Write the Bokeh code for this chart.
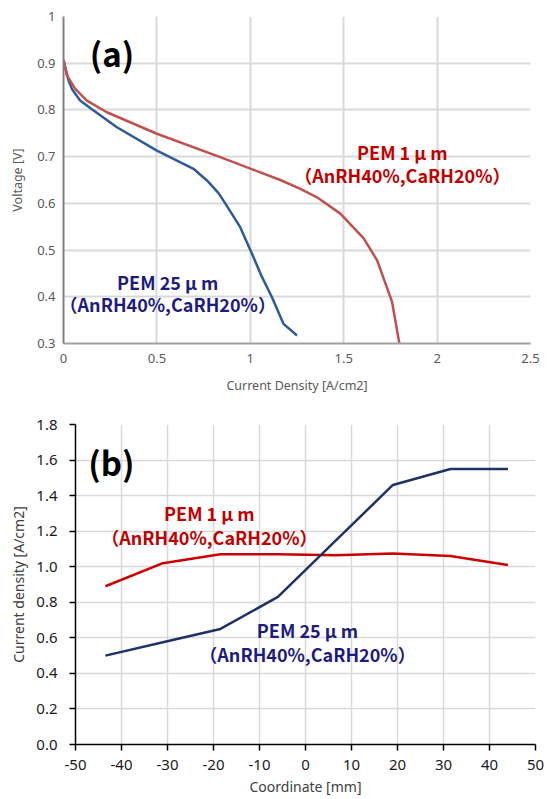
from bokeh.plotting import figure
from bokeh.models import Range1d, FixedTicker, Label, CustomJSTickFormatter, PrintfTickFormatter
from bokeh.embed import file_html
from bokeh.resources import INLINE

# ---- data (a) ----
j_pem1 = [0, 0.018, 0.063, 0.125, 0.232, 0.5, 0.839, 1.161, 1.268, 1.357, 1.482, 1.607, 1.679, 1.759, 1.798]
v_pem1 = [0.907, 0.874, 0.845, 0.820, 0.795, 0.749, 0.699, 0.650, 0.631, 0.613, 0.578, 0.525, 0.478, 0.389, 0.300]
j_pem25 = [0, 0.027, 0.045, 0.089, 0.161, 0.286, 0.5, 0.696, 0.768, 0.830, 0.866, 0.946, 1.009, 1.063, 1.116, 1.178, 1.25]
v_pem25 = [0.907, 0.863, 0.845, 0.820, 0.799, 0.763, 0.713, 0.674, 0.649, 0.622, 0.600, 0.549, 0.492, 0.442, 0.399, 0.342, 0.317]
a_xticks = [0, 0.5, 1, 1.5, 2, 2.5]
a_yticks = [0.3, 0.4, 0.5, 0.6, 0.7, 0.8, 0.9, 1.0]

# ---- data (b) ----
coord = [-43.5, -31, -18.5, -6, 6.5, 19, 31.5, 44]
cd_pem1 = [0.89, 1.02, 1.07, 1.07, 1.065, 1.075, 1.06, 1.01]
cd_pem25 = [0.50, 0.575, 0.65, 0.83, 1.145, 1.46, 1.55, 1.55]
b_xticks = [-50, -40, -30, -20, -10, 0, 10, 20, 30, 40, 50]
b_yticks = [0.0, 0.2, 0.4, 0.6, 0.8, 1.0, 1.2, 1.4, 1.6, 1.8]

label_1 = "PEM 1 μ m"
label_25 = "PEM 25 μ m"
label_cond = "（AnRH40%,CaRH20%）"

TXT_FONT = "Noto Sans CJK JP"
RED_TXT = "#c00000"
BLUE_TXT = "#1e1b7f"


def add_label(p, x, y, text, color, size):
    p.add_layout(Label(x=x, y=y, text=text, text_font=TXT_FONT, text_font_size=size,
                       text_font_style="bold", text_color=color,
                       text_align="center", text_baseline="middle"))


# ================= figure (a) =================
pa = figure(width=547, height=398, output_backend="svg", toolbar_location=None,
            x_range=Range1d(0, 2.5), y_range=Range1d(0.3, 1.0),
            min_border_left=63, min_border_right=17, min_border_top=16, min_border_bottom=55)
pa.outline_line_color = None
pa.line(j_pem25, v_pem25, line_color="#2f5b96", line_width=2.5)
pa.line(j_pem1, v_pem1, line_color="#c0504d", line_width=2.5)

pa.xaxis.ticker = FixedTicker(ticks=a_xticks)
pa.yaxis.ticker = FixedTicker(ticks=a_yticks)
pa.xaxis.formatter = CustomJSTickFormatter(code="return String(Math.round(tick*10)/10);")
pa.yaxis.formatter = CustomJSTickFormatter(code="return String(Math.round(tick*10)/10);")
for ax in (pa.xaxis[0], pa.yaxis[0]):
    ax.major_tick_out = 0
    ax.major_tick_in = 0
    ax.minor_tick_out = 0
    ax.minor_tick_in = 0
    ax.axis_line_width = 2
    ax.major_label_text_font = "Noto Sans"
    ax.major_label_text_font_size = "13px"
    ax.major_label_text_color = "#595959"
    ax.axis_label_text_font = "Noto Sans"
    ax.axis_label_text_font_size = "12.5px"
    ax.axis_label_text_font_style = "normal"
    ax.axis_label_text_color = "#595959"
pa.xaxis.axis_line_color = "#a0a0a0"
pa.yaxis.axis_line_color = "#808080"
pa.xaxis.major_label_standoff = 10
pa.yaxis.major_label_standoff = 8
pa.xaxis.axis_label = "Current Density [A/cm2]"
pa.yaxis.axis_label = "Voltage [V]"
pa.xaxis.axis_label_standoff = 11
pa.yaxis.axis_label_standoff = 8
pa.grid.grid_line_color = "#d9d9d9"
pa.grid.grid_line_width = 2

pa.add_layout(Label(x=0.26, y=0.922, text="(a)", text_font=TXT_FONT, text_font_size="33px",
                    text_font_style="bold", text_color="black", text_align="center", text_baseline="middle"))
add_label(pa, 1.814, 0.709, label_1, RED_TXT, "18px")
add_label(pa, 1.814, 0.661, label_cond, RED_TXT, "18px")
add_label(pa, 0.558, 0.432, label_25, BLUE_TXT, "18px")
add_label(pa, 0.558, 0.384, label_cond, BLUE_TXT, "18px")

# ================= figure (b) =================
pb = figure(width=547, height=401, output_backend="svg", toolbar_location=None,
            x_range=Range1d(-50, 50), y_range=Range1d(0, 1.8),
            min_border_left=75, min_border_right=12, min_border_top=26, min_border_bottom=55)
pb.outline_line_color = None
pb.line(coord, cd_pem1, line_color="#cc0000", line_width=2.5)
pb.line(coord, cd_pem25, line_color="#1f3266", line_width=2.5)

pb.xaxis.ticker = FixedTicker(ticks=b_xticks)
pb.yaxis.ticker = FixedTicker(ticks=b_yticks)
pb.xaxis.formatter = CustomJSTickFormatter(code="return tick.toFixed(0);")
pb.yaxis.formatter = PrintfTickFormatter(format="%.1f")
for ax in (pb.xaxis[0], pb.yaxis[0]):
    ax.major_tick_out = 6
    ax.major_tick_in = 0
    ax.minor_tick_out = 0
    ax.minor_tick_in = 0
    ax.major_tick_line_color = "black"
    ax.major_tick_line_width = 1.5
    ax.axis_line_color = "black"
    ax.axis_line_width = 1.5
    ax.major_label_text_font = "Noto Sans"
    ax.major_label_text_font_size = "15px"
    ax.major_label_text_color = "#1a1a1a"
    ax.axis_label_text_font = "Noto Sans"
    ax.axis_label_text_font_size = "14px"
    ax.axis_label_text_font_style = "normal"
    ax.axis_label_text_color = "#404040"
pb.xaxis.major_label_standoff = 9
pb.yaxis.major_label_standoff = 12
pb.xaxis.axis_label = "Coordinate [mm]"
pb.yaxis.axis_label = "Current density [A/cm2]"
pb.xaxis.axis_label_standoff = 4
pb.yaxis.axis_label_standoff = 5
pb.grid.grid_line_color = "#d9d9d9"
pb.grid.grid_line_width = 1.5

pb.add_layout(Label(x=-42.2, y=1.588, text="(b)", text_font=TXT_FONT, text_font_size="33px",
                    text_font_style="bold", text_color="black", text_align="center", text_baseline="middle"))
add_label(pb, -20.9, 1.301, label_1, RED_TXT, "18px")
add_label(pb, -20.9, 1.170, label_cond, RED_TXT, "18px")
add_label(pb, 0.43, 0.646, label_25, BLUE_TXT, "18px")
add_label(pb, 0.43, 0.510, label_cond, BLUE_TXT, "18px")

open("out.html", "w").write(file_html([pa, pb], INLINE))
